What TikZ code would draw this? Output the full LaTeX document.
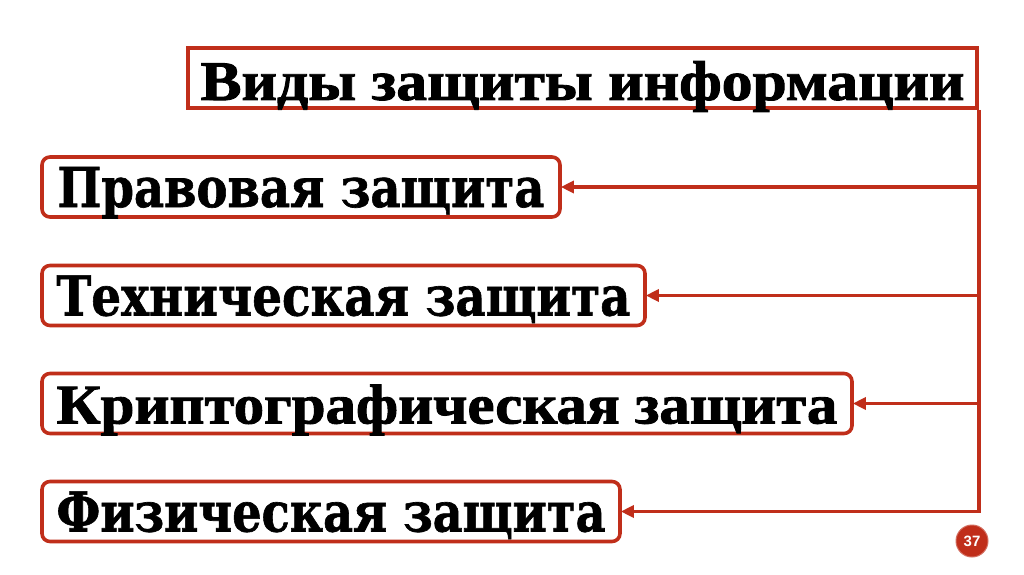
\documentclass[tikz,border=0pt]{standalone}
\usepackage{fontspec}
\setmainfont{Liberation Serif}
\newfontfamily\widefont{DejaVu Serif Bold}[FakeBold=1.2]
\newfontfamily\condfont{Liberation Serif Bold}[FakeBold=1.6]
\newfontfamily\numfont{Liberation Sans Bold}
\usetikzlibrary{arrows.meta}
\definecolor{rd}{RGB}{192,46,26}
\tikzset{
  box/.style={draw=rd, line width=3.6pt, fill=white, rounded corners=8pt, inner sep=0pt,
    text height=40pt, text depth=0pt, align=center, minimum height=60pt},
  titlebox/.style={draw=rd, line width=3.6pt, fill=white, inner sep=0pt,
    text height=44pt, text depth=0pt, minimum height=60pt},
  link/.style={draw=rd, line width=3.4pt},
  arr/.style={link, -{Triangle[length=13pt,width=12pt]}, shorten >=-1pt},
}
\begin{document}
\begin{tikzpicture}[x=1pt,y=1pt]
\useasboundingbox (0,0) rectangle (1024,574);
\fill[white] (0,0) rectangle (1024,574);
% title
\node[titlebox, minimum width=789pt] (title) at (582.5,496)
  {\condfont\fontsize{56}{60}\selectfont\resizebox{764pt}{\height}{Виды защиты информации}};
\node[box, minimum width=518pt] (b1) at (301,387)
  {\widefont\fontsize{55}{60}\selectfont\resizebox{487pt}{\height}{Правовая защита}};
\node[box, minimum width=603pt] (b2) at (343.5,278.5)
  {\widefont\fontsize{55}{60}\selectfont\resizebox{574pt}{\height}{Техническая защита}};
\node[box, minimum width=810pt] (b3) at (447,170.5)
  {\condfont\fontsize{56}{60}\selectfont\resizebox{781pt}{\height}{Криптографическая защита}};
\node[box, minimum width=578pt] (b4) at (331,62.5)
  {\widefont\fontsize{55}{60}\selectfont\resizebox{549pt}{\height}{Физическая защита}};
% connectors
\coordinate (c1) at (title.east |- b1.east);
\coordinate (c2) at (title.east |- b2.east);
\coordinate (c3) at (title.east |- b3.east);
\coordinate (c4) at (title.east |- b4.east);
\draw[link] (title.south east) -- (c4);
\draw[arr] (c1) -- (b1.east);
\draw[arr] (c2) -- (b2.east);
\draw[arr] (c3) -- (b3.east);
\draw[arr] ([xshift=1.7pt]c4) -- (b4.east);
% page number
\node[circle, fill=rd, draw=rd!70!white, line width=1pt, minimum size=32pt, inner sep=0pt,
  text=white, font=\numfont\fontsize{15}{15}\selectfont] (pg) at (972,33) {37};
\end{tikzpicture}
\end{document}
